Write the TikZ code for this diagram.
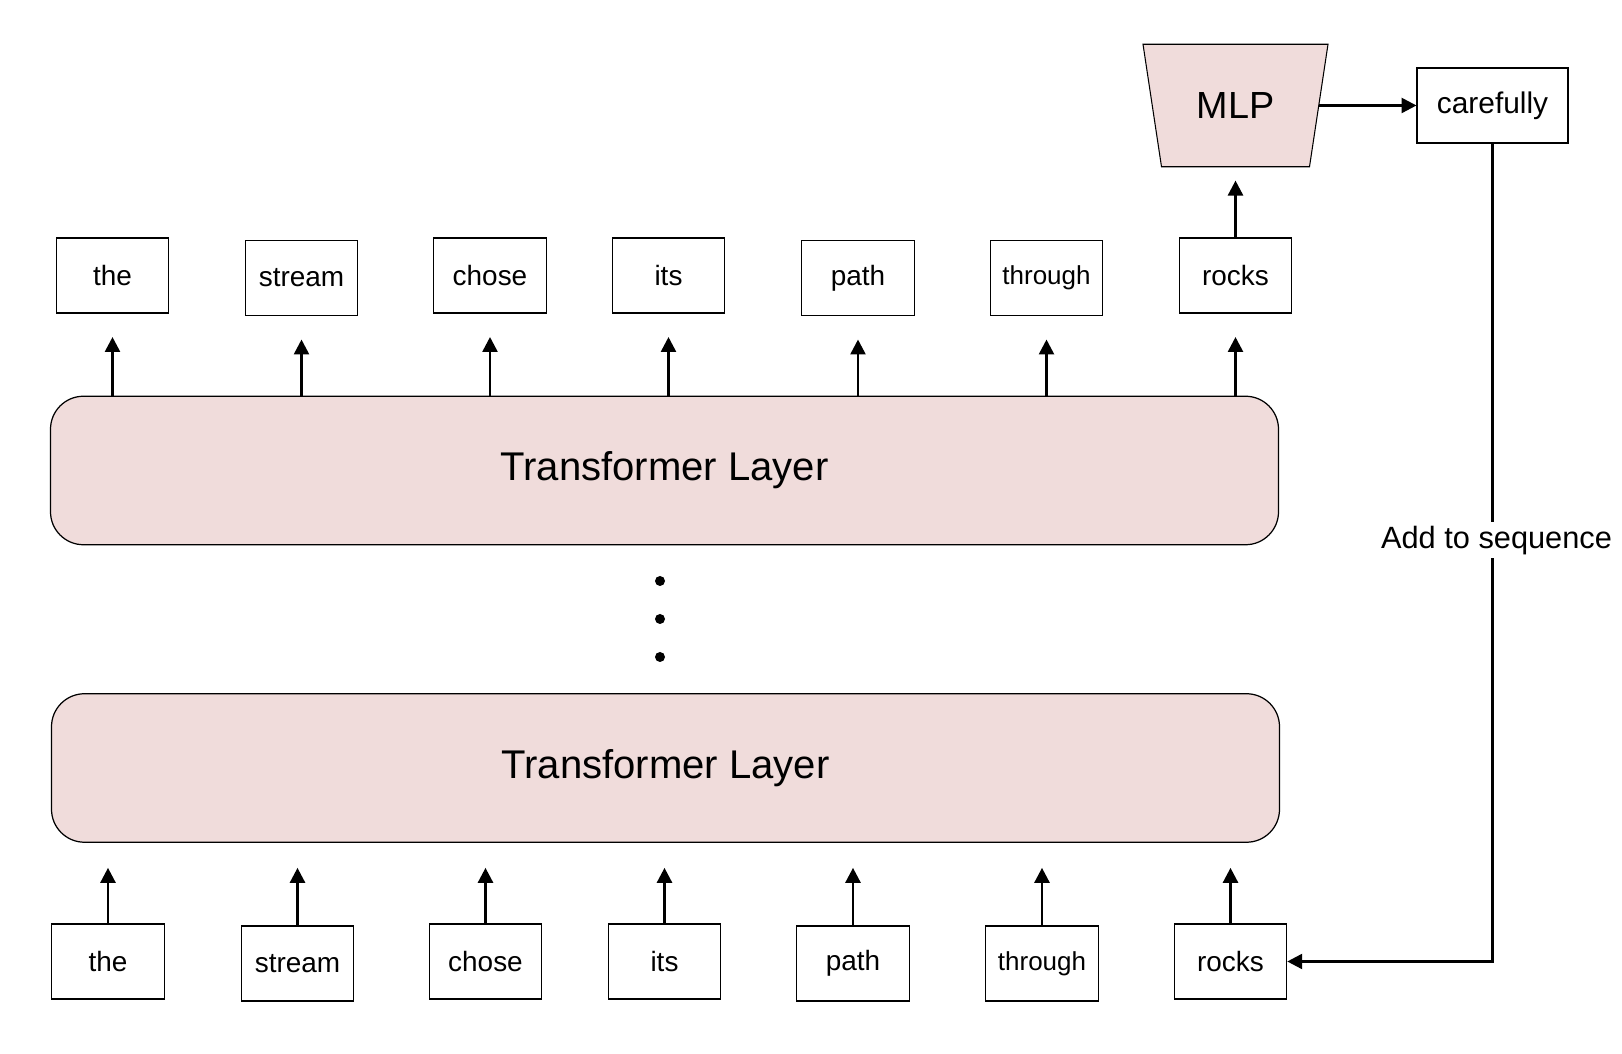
\documentclass[tikz,border=0pt]{standalone}
\usepackage{fontspec}
\setmainfont{Liberation Sans}
\usetikzlibrary{arrows.meta,calc}
\definecolor{layerpink}{RGB}{240,220,219}
\tikzset{myarrow/.style={black,line width=1.5pt,-{Triangle[length=8.5pt,width=8.5pt]}}}
\tikzset{tokbox/.style={draw,line width=0.6pt,minimum width=2.25cm,minimum height=1.5cm,inner sep=0pt,font=\fontsize{15.9}{19}\selectfont}}
\tikzset{layerbox/.style={draw,line width=0.7pt,fill=layerpink,rounded corners=0.66cm,minimum width=24.56cm,minimum height=2.97cm,font=\fontsize{22.8}{27}\selectfont}}

\begin{document}
\begin{tikzpicture}
	\useasboundingbox (0,0) rectangle (32.44,21.08);

	\node[layerbox] (layerA) at (13.29,11.67) {Transformer Layer};
	\node[layerbox] (layerB) at (13.31,5.72) {Transformer Layer};

	\fill[black] (13.2,9.46) circle (0.1);
	\fill[black] (13.2,8.70) circle (0.1);
	\fill[black] (13.2,7.94) circle (0.1); % dots between layers

	\node[tokbox] (ttop1) at (2.25,15.57) {the};
	\node[tokbox] (ttop2) at (6.03,15.52) {stream};
	\node[tokbox] (ttop3) at (9.80,15.57) {chose};
	\node[tokbox] (ttop4) at (13.37,15.57) {its};
	\node[tokbox] (ttop5) at (17.16,15.52) {path};
	\node[tokbox,font=\fontsize{14.8}{18}\selectfont] (ttop6) at (20.93,15.52) {through};
	\node[tokbox] (ttop7) at (24.71,15.57) {rocks};

	\node[tokbox] (tbot1) at (2.16,1.85) {the};
	\node[tokbox] (tbot2) at (5.95,1.81) {stream};
	\node[tokbox] (tbot3) at (9.71,1.85) {chose};
	\node[tokbox] (tbot4) at (13.29,1.85) {its};
	\node[tokbox] (tbot5) at (17.06,1.81) {path};
	\node[tokbox,font=\fontsize{14.8}{18}\selectfont] (tbot6) at (20.84,1.81) {through};
	\node[tokbox] (tbot7) at (24.61,1.85) {rocks};

	\coordinate (mlpc) at (24.71,18.97);
	\filldraw[line width=0.6pt,fill=layerpink] ($(mlpc)+(-1.85,1.225)$) -- ($(mlpc)+(1.85,1.225)$) -- ($(mlpc)+(1.48,-1.225)$) -- ($(mlpc)+(-1.48,-1.225)$) -- cycle;
	\node[minimum width=3.33cm,minimum height=2.45cm,inner sep=0pt,font=\fontsize{21.5}{25}\selectfont] (mlp) at (mlpc) {MLP};
	\node[tokbox,minimum width=3.02cm,font=\fontsize{17}{20}\selectfont] (careful) at (29.85,18.97) {carefully};

	\draw[myarrow] (layerA.north -| ttop1) -- ($(ttop1.south)+(0,-0.47)$);
	\draw[myarrow] (layerA.north -| ttop2) -- ($(ttop2.south)+(0,-0.47)$);
	\draw[myarrow] (layerA.north -| ttop3) -- ($(ttop3.south)+(0,-0.47)$);
	\draw[myarrow] (layerA.north -| ttop4) -- ($(ttop4.south)+(0,-0.47)$);
	\draw[myarrow] (layerA.north -| ttop5) -- ($(ttop5.south)+(0,-0.47)$);
	\draw[myarrow] (layerA.north -| ttop6) -- ($(ttop6.south)+(0,-0.47)$);
	\draw[myarrow] (layerA.north -| ttop7) -- ($(ttop7.south)+(0,-0.47)$);

	\draw[myarrow] (tbot1.north) -- ($(layerB.south -| tbot1)+(0,-0.5)$);
	\draw[myarrow] (tbot2.north) -- ($(layerB.south -| tbot2)+(0,-0.5)$);
	\draw[myarrow] (tbot3.north) -- ($(layerB.south -| tbot3)+(0,-0.5)$);
	\draw[myarrow] (tbot4.north) -- ($(layerB.south -| tbot4)+(0,-0.5)$);
	\draw[myarrow] (tbot5.north) -- ($(layerB.south -| tbot5)+(0,-0.5)$);
	\draw[myarrow] (tbot6.north) -- ($(layerB.south -| tbot6)+(0,-0.5)$);
	\draw[myarrow] (tbot7.north) -- ($(layerB.south -| tbot7)+(0,-0.5)$);

	\draw[myarrow] (ttop7.north) -- ($(mlp.south)+(0,-0.27)$);
	\draw[myarrow] (mlp.east) -- (careful.west);
	\draw[myarrow] (careful.south) |- (tbot7.east) node[pos=0.2425,xshift=0.08cm,fill=white,inner sep=2pt,font=\fontsize{17.5}{21}\selectfont] {Add to sequence};
\end{tikzpicture}
\end{document}
